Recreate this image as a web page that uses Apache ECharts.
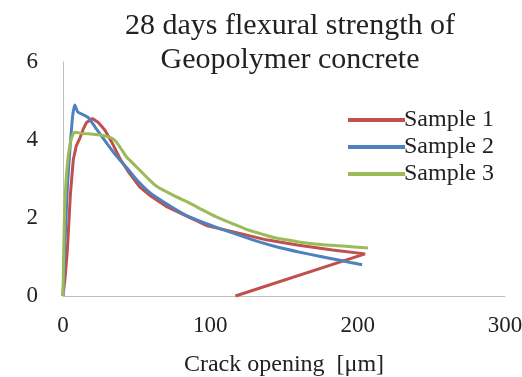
<!DOCTYPE html>
<html><head><meta charset="utf-8">
<script src="https://cdn.jsdelivr.net/npm/echarts@6/dist/echarts.min.js"></script>
<style>html,body{margin:0;padding:0;background:#fff}#c{width:522px;height:377px}</style>
</head><body><div id="c"></div>
<script>
const titleLines = ["28 days flexural strength of", "Geopolymer concrete"];
const xAxisTitle = "Crack opening  [\u03bcm]";
const seriesNames = ["Sample 1", "Sample 2", "Sample 3"];
const seriesColors = ["#c0504d", "#4f81bd", "#9bbb59"];
const xTicks = [0, 100, 200, 300];
const yTicks = [0, 2, 4, 6];

const sample1 = [[0,0],[1.5,0.5],[3,1.2],[5,2.6],[7,3.5],[9,3.85],[11.5,4.05],[14,4.3],[16,4.45],[20,4.55],[24,4.45],[28.5,4.25],[33,3.95],[39,3.5],[45,3.15],[52,2.8],[60,2.55],[70,2.3],[84,2.05],[98,1.8],[115,1.65],[138,1.44],[160,1.3],[183,1.18],[205,1.08],[117,0]];
const sample2 = [[0,0],[1.5,1.5],[3,2.8],[5,3.9],[6.5,4.6],[8,4.9],[10,4.72],[13,4.66],[17,4.58],[22,4.32],[30,3.9],[36,3.6],[43,3.3],[50,2.98],[59,2.65],[70,2.37],[81,2.12],[92,1.93],[104,1.76],[118,1.58],[132,1.4],[146,1.25],[160,1.13],[174,1.02],[186,0.93],[195,0.86],[203,0.8]];
const sample3 = [[0,0],[0.5,1.2],[1.4,2.5],[3,3.4],[4.8,3.9],[6.5,4.12],[8,4.2],[13,4.17],[20,4.15],[25,4.13],[31,4.08],[35,4.0],[39,3.8],[43,3.57],[47,3.42],[52,3.23],[58,3.0],[64,2.8],[75,2.58],[86,2.38],[95,2.2],[104,2.03],[114,1.87],[125,1.7],[134,1.6],[143,1.5],[152,1.44],[161,1.38],[175,1.32],[190,1.28],[207,1.23]];
const allData = [sample1, sample2, sample3];

const serif = "'Liberation Serif','DejaVu Serif',serif";
const chart = echarts.init(document.getElementById('c'));
chart.setOption({
  animation: false,
  backgroundColor: '#fff',
  title: {
    text: titleLines.join('\n'),
    left: 285, top: 4, textAlign: 'center',
    textStyle: { fontFamily: serif, fontSize: 30, fontWeight: 'normal', color: '#222', lineHeight: 34 }
  },
  legend: {
    orient: 'vertical', left: 343, top: 103,
    itemWidth: 57, itemHeight: 4, itemGap: 3, icon: 'rect',
    data: seriesNames,
    textStyle: { fontFamily: serif, fontSize: 24, color: '#222', lineHeight: 24, padding: [0,0,0,-6] }
  },
  grid: { left: 63, right: 17, top: 62, bottom: 81, containLabel: false, outerBoundsMode: 'none' },
  xAxis: {
    type: 'value', min: 0, max: 300, interval: 100,
    name: xAxisTitle, nameLocation: 'middle', nameGap: 57,
    nameTextStyle: { fontFamily: serif, fontSize: 24, color: '#222' },
    axisLine: { show: true, lineStyle: { color: '#bfbfbf', width: 1 } },
    axisTick: { show: false }, splitLine: { show: false },
    axisLabel: { fontFamily: serif, fontSize: 23, color: '#222', margin: 18, showMaxLabel: true,
      customValues: xTicks }
  },
  yAxis: {
    type: 'value', min: 0, max: 6, interval: 2,
    axisLine: { show: true, lineStyle: { color: '#bfbfbf', width: 1 } },
    axisTick: { show: false }, splitLine: { show: false },
    axisLabel: { fontFamily: serif, fontSize: 23, color: '#222', margin: 25, customValues: yTicks }
  },
  series: seriesNames.map((n, i) => ({
    name: n, type: 'line', data: allData[i], showSymbol: false, symbol: 'none',
    color: seriesColors[i], lineStyle: { width: 3, color: seriesColors[i] },
    smooth: i === 0 ? false : 0.25
  }))
});
</script></body></html>
